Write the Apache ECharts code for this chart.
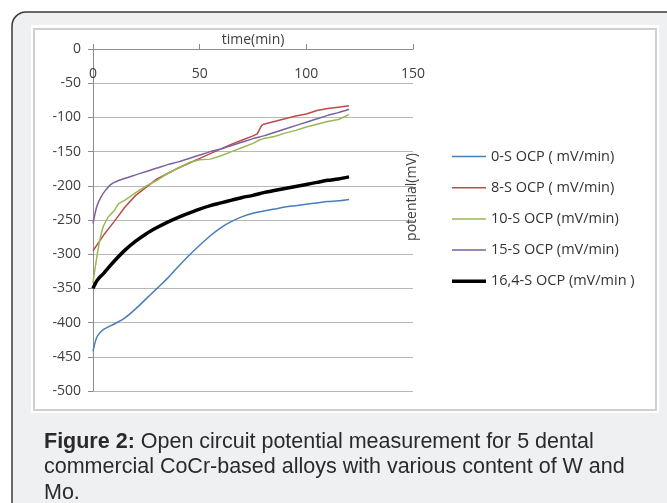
<!DOCTYPE html>
<html>
<head>
<meta charset="utf-8">
<script src="https://cdn.jsdelivr.net/npm/echarts@6/dist/echarts.min.js"></script>
<style>
html,body{margin:0;padding:0;background:#fff;}
#c{width:667px;height:503px;}
</style>
</head>
<body>
<div id="c"></div>
<script>
// ---- data ----
var seriesNames = ['0-S OCP ( mV/min)', '8-S OCP ( mV/min)', '10-S OCP (mV/min)', '15-S OCP (mV/min)', '16,4-S OCP (mV/min )'];
var xTicks = [0, 50, 100, 150];
var yTicks = [0, -50, -100, -150, -200, -250, -300, -350, -400, -450, -500];

var t0S = [0, 2, 5, 10, 15, 20, 25, 30, 35, 40, 45, 50, 55, 60, 65, 70, 75, 80, 85, 90, 95, 100, 105, 110, 115, 120];
var v0S = [-442, -420, -410, -402, -393, -380, -365, -350, -335, -318, -302, -287, -273, -261, -252, -245, -240, -237, -234, -231, -229, -227, -225, -223, -222, -220];

var t8S = [0, 5, 10, 15, 20, 25, 30, 35, 40, 45, 50, 55, 60, 65, 70, 75, 77, 79, 80, 85, 90, 95, 100, 105, 110, 115, 120];
var v8S = [-295, -272, -252, -231, -214, -202, -190, -182, -174, -167, -160, -153, -146, -139, -133, -127, -124, -112, -110, -106, -102, -98, -95, -90, -87, -85, -83];

var t10S = [0, 1, 2, 3, 4, 5, 7, 10, 12, 15, 20, 25, 30, 35, 40, 45, 50, 55, 60, 65, 70, 75, 78, 80, 85, 90, 95, 100, 105, 110, 115, 120];
var v10S = [-342, -320, -300, -282, -268, -258, -246, -236, -226, -221, -210, -200, -192, -182, -174, -166, -162, -161, -156, -150, -144, -138, -133, -131, -128, -123, -119, -114, -110, -106, -103, -96];

var t15S = [0, 1, 2, 4, 6, 8, 10, 15, 20, 25, 30, 35, 40, 45, 50, 55, 60, 65, 70, 75, 80, 85, 90, 95, 100, 105, 110, 115, 120];
var v15S = [-255, -240, -228, -215, -206, -199, -195, -189, -184, -179, -174, -169, -165, -160, -155, -150, -146, -141, -136, -131, -127, -122, -117, -112, -107, -102, -97, -93, -88];

var t164S = [0, 2, 5, 10, 15, 20, 25, 30, 35, 40, 45, 50, 55, 60, 65, 70, 75, 80, 85, 90, 95, 100, 105, 110, 115, 120];
var v164S = [-350, -338, -328, -310, -294, -281, -270, -261, -253, -246, -240, -234, -229, -225, -221, -217, -214, -210, -207, -204, -201, -198, -195, -192, -190, -187];

var xTitle = 'time(min)';
var yTitle = 'potential(mV)';
var caption = ['{b|Figure 2:} Open circuit potential measurement for 5 dental', 'commercial CoCr-based alloys with various content of W and', 'Mo.'];

function pairs(t, v) { return t.map(function (x, i) { return [x, v[i]]; }); }

var colors = ['#4a7ebb', '#be4b48', '#98b954', '#7d60a0', '#000000'];
var widths = [1.5, 1.5, 1.5, 1.5, 3.5];
var smooths = [0.3, false, false, 0.3, 0.3];
var allData = [pairs(t0S, v0S), pairs(t8S, v8S), pairs(t10S, v10S), pairs(t15S, v15S), pairs(t164S, v164S)];

// legend line icons: invisible corner specks fix the bounding box, bar in the middle
function lineIcon(h) {
  var a = (14 - h) / 2, b = a + h;
  return 'path://M0,0L0.01,0L0,0.01Z M0,' + a + 'L34,' + a + 'L34,' + b + 'L0,' + b + 'Z M34,14L33.99,14L34,13.99Z';
}

var FONT = '"Open Sans", "Liberation Sans", sans-serif';

var chart = echarts.init(document.getElementById('c'), null, { renderer: 'canvas' });
var option = {
  backgroundColor: '#ffffff',
  animation: false,
  graphic: [
    { type: 'rect', z: -10, shape: { x: 12, y: 12, width: 700, height: 505, r: 14 },
      style: { fill: '#eff0f2', stroke: '#3a3a3a', lineWidth: 1.5 } },
    { type: 'rect', z: -9, shape: { x: 31, y: 25, width: 628, height: 388 },
      style: { fill: '#ffffff', stroke: null } },
    { type: 'rect', z: -8, shape: { x: 34, y: 29, width: 622, height: 381 },
      style: { fill: 'none', stroke: '#cfcfcf', lineWidth: 2 } },
    { type: 'text', z: 10, x: 253, y: 40,
      style: { text: xTitle, font: '14px ' + FONT, fill: '#404040', align: 'center', verticalAlign: 'middle' } },
    { type: 'text', z: 10, x: 412, y: 197, rotation: Math.PI / 2,
      style: { text: yTitle, font: '14px ' + FONT, fill: '#404040', align: 'center', verticalAlign: 'middle' } },
    { type: 'text', z: 10, x: 44, y: 429,
      style: { text: caption.join('\n'), fontFamily: '"Liberation Sans", Arial, sans-serif', fontSize: 21.5, lineHeight: 25.5,
        fill: '#2a2a2a', align: 'left', verticalAlign: 'top',
        rich: { b: { fontWeight: 'bold', fontFamily: '"Liberation Sans", Arial, sans-serif', fontSize: 21.5, lineHeight: 25.5, fill: '#2a2a2a' } } } }
  ],
  legend: {
    orient: 'vertical',
    left: 452,
    top: 149,
    padding: 0,
    itemWidth: 34,
    itemHeight: 14,
    itemGap: 16.2,
    data: seriesNames.map(function (n, i) { return { name: n, icon: lineIcon(i === 4 ? 3.5 : 1.5) }; }),
    textStyle: { fontFamily: FONT, fontSize: 14.5, color: '#333' }
  },
  grid: { left: 93, right: 254, top: 49, bottom: 112, containLabel: false },
  xAxis: {
    type: 'value', position: 'top', min: xTicks[0], max: xTicks[xTicks.length - 1], interval: 50,
    axisLine: { show: true, onZero: false, lineStyle: { color: '#8c8c8c', width: 1 } },
    axisTick: { show: true, inside: false, length: 5, lineStyle: { color: '#8c8c8c' } },
    axisLabel: { inside: true, margin: 18, fontFamily: FONT, fontSize: 14, color: '#404040' },
    splitLine: { show: false }
  },
  yAxis: {
    type: 'value', min: yTicks[yTicks.length - 1], max: yTicks[0], interval: 50,
    axisLine: { show: true, onZero: false, lineStyle: { color: '#8c8c8c', width: 1 } },
    axisTick: { show: true, length: 5, lineStyle: { color: '#8c8c8c' } },
    axisLabel: { margin: 12, fontFamily: FONT, fontSize: 14, color: '#404040' },
    splitLine: { show: true, lineStyle: { color: '#b8b8b8', width: 1 } }
  },
  series: seriesNames.map(function (n, i) {
    return {
      name: n, type: 'line', data: allData[i], symbol: 'none', showSymbol: false,
      smooth: smooths[i], color: colors[i],
      lineStyle: { color: colors[i], width: widths[i] },
      z: i === 4 ? 3 : 2
    };
  })
};
chart.setOption(option);
</script>
</body>
</html>
